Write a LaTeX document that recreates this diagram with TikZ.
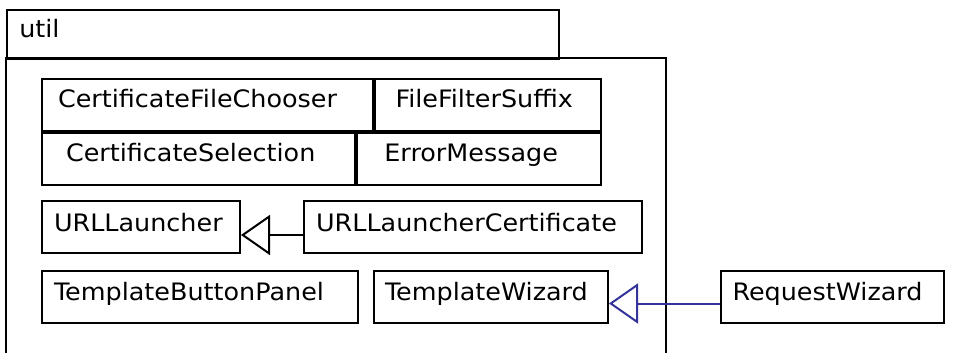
\documentclass[tikz,border=0pt]{standalone}
\usepackage{fontspec}
\setmainfont{DejaVu Sans}[FakeStretch=1.06]
\usepackage{tikz}
\usetikzlibrary{arrows.meta}
\tikzset{>=latex}
\definecolor{inhblue}{RGB}{51,51,153}
\tikzset{class/.style = {draw,line width=2pt,anchor=north west,inner ysep=0pt,align=left,
    font=\fontsize{24}{28}\selectfont,minimum height=52pt,text height=30pt,text depth=22pt}}
\tikzset{gridclass/.style = {class,text height=28pt,text depth=24pt}}
\tikzset{genedge/.style = {line width=2pt,-{Triangle[open,length=29pt,width=40pt]}}}

\begin{document}
\begin{tikzpicture}[x=1pt,y=-1pt]
            \useasboundingbox (0,0) rectangle (978,353);
            \clip (0,0) rectangle (978,353);

            % Package
            \draw[line width=2pt] (5.5,58) rectangle (666,380);
            \node[class,text height=28pt,text depth=21pt,minimum height=49pt,
                  inner xsep=12.8pt,text width=527pt] (util) at (5.5,9) {util};

            % Classes
            \node[gridclass,inner xsep=16pt,text width=299pt] (chooser) at (41,78) {CertificateFileChooser};
            \node[gridclass,inner xsep=20.5pt,text width=185pt] (suffix) at (chooser.north east) {FileFilterSuffix};
            \node[gridclass,inner xsep=24pt,text width=265pt] (selection) at (chooser.south west) {CertificateSelection};
            \node[gridclass,inner xsep=27.4pt,text width=189pt] (error) at (selection.north east) {ErrorMessage};

            \node[class,inner xsep=12pt,text width=174pt] (launcher) at (41,200) {URLLauncher};
            \node[class,inner xsep=12.6pt,text width=313pt] (launchercert) at (302.5,200) {URLLauncherCertificate};

            \node[class,inner xsep=12pt,text width=292pt] (buttonpanel) at (41,269.5) {TemplateButtonPanel};
            \node[class,inner xsep=11.5pt,text width=211.5pt] (templatewizard) at (372.5,269.5) {TemplateWizard};
            \node[class,inner xsep=12pt,text width=199pt] (requestwizard) at (719.5,269.5) {RequestWizard};

            % Generalisations
            \draw[genedge] ([yshift=-8pt]launchercert.west) -- ([yshift=-8pt]launcher.east);
            \draw[genedge,inhblue] ([yshift=-7pt]requestwizard.west) -- ([yshift=-7pt]templatewizard.east);
        \end{tikzpicture}
\end{document}
